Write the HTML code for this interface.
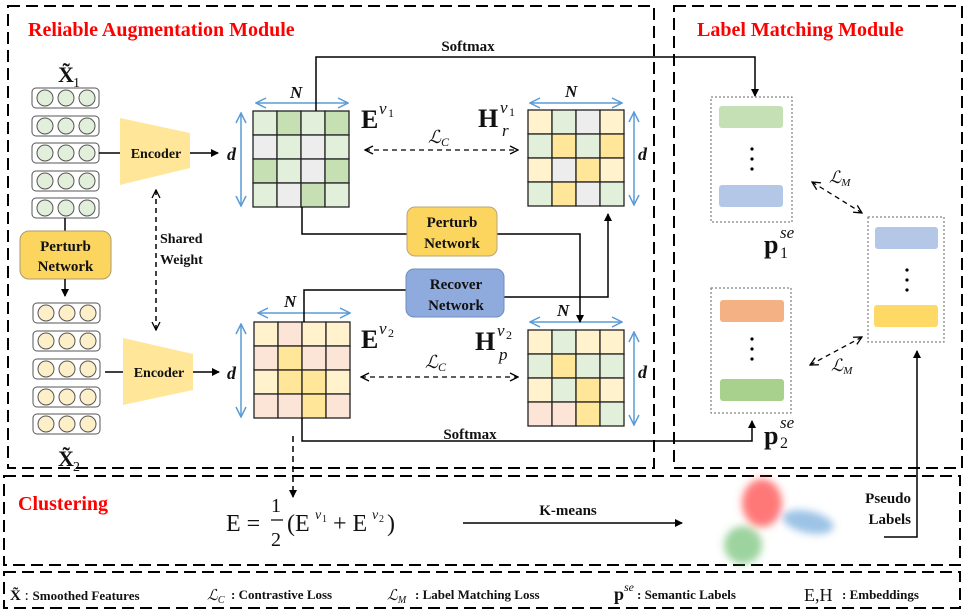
<!DOCTYPE html>
<html><head><meta charset="utf-8"><style>
html,body{margin:0;padding:0;background:#fff}
svg{display:block}
text{font-family:"Liberation Serif",serif;font-weight:bold;fill:#111}
.it{font-style:italic}
.nb{font-weight:normal}
</style></head><body>
<svg width="964" height="614" viewBox="0 0 964 614" xmlns="http://www.w3.org/2000/svg">
<defs>
<marker id="ah" markerWidth="8" markerHeight="8" refX="7" refY="4" orient="auto" markerUnits="userSpaceOnUse"><path d="M0,0 L8,4 L0,8 Z" fill="#000"/></marker>
<marker id="oh" markerWidth="10" markerHeight="10" refX="9" refY="5" orient="auto-start-reverse" markerUnits="userSpaceOnUse"><path d="M1,1 L9,5 L1,9" fill="none" stroke="#000" stroke-width="1.3"/></marker>
<marker id="bh" markerWidth="12" markerHeight="12" refX="11" refY="6" orient="auto-start-reverse" markerUnits="userSpaceOnUse"><path d="M1,1 L11,6 L1,11" fill="none" stroke="#5b9bd5" stroke-width="1.5"/></marker>
<filter id="bl" x="-30%" y="-30%" width="160%" height="160%"><feGaussianBlur stdDeviation="4"/></filter>
</defs>
<g fill="none" stroke="#000" stroke-width="2" stroke-dasharray="12,6">
<rect x="8" y="6" width="646" height="462"/>
<rect x="674" y="6" width="288" height="462"/>
<rect x="4" y="476" width="956" height="89"/>
<rect x="4" y="572" width="956" height="36"/>
</g>
<text x="28" y="36" font-size="20" style="fill:#ff0000">Reliable Augmentation Module</text>
<text x="697" y="36" font-size="20" style="fill:#ff0000">Label Matching Module</text>

<!-- feature rows -->
<text x="58" y="82" font-size="22">X̃</text><text x="73" y="87" font-size="14" class="nb">1</text>
<g stroke="#555" stroke-width="1">
<g fill="#fff"><rect x="32" y="88" width="67" height="20" rx="4"/><rect x="32" y="116" width="67" height="20" rx="4"/><rect x="32" y="143" width="67" height="20" rx="4"/><rect x="32" y="171" width="67" height="20" rx="4"/><rect x="32" y="198" width="67" height="20" rx="4"/>
<rect x="33" y="303" width="67" height="20" rx="4"/><rect x="33" y="331" width="67" height="20" rx="4"/><rect x="33" y="359" width="67" height="20" rx="4"/><rect x="33" y="387" width="67" height="20" rx="4"/><rect x="33" y="414" width="67" height="20" rx="4"/></g>
<g fill="#e2efda">
<circle cx="45" cy="98" r="8"/><circle cx="66" cy="98" r="8"/><circle cx="87" cy="98" r="8"/>
<circle cx="45" cy="126" r="8"/><circle cx="66" cy="126" r="8"/><circle cx="87" cy="126" r="8"/>
<circle cx="45" cy="153" r="8"/><circle cx="66" cy="153" r="8"/><circle cx="87" cy="153" r="8"/>
<circle cx="45" cy="181" r="8"/><circle cx="66" cy="181" r="8"/><circle cx="87" cy="181" r="8"/>
<circle cx="45" cy="208" r="8"/><circle cx="66" cy="208" r="8"/><circle cx="87" cy="208" r="8"/></g>
<g fill="#fdefc8">
<circle cx="46" cy="313" r="8"/><circle cx="67" cy="313" r="8"/><circle cx="88" cy="313" r="8"/>
<circle cx="46" cy="341" r="8"/><circle cx="67" cy="341" r="8"/><circle cx="88" cy="341" r="8"/>
<circle cx="46" cy="369" r="8"/><circle cx="67" cy="369" r="8"/><circle cx="88" cy="369" r="8"/>
<circle cx="46" cy="397" r="8"/><circle cx="67" cy="397" r="8"/><circle cx="88" cy="397" r="8"/>
<circle cx="46" cy="424" r="8"/><circle cx="67" cy="424" r="8"/><circle cx="88" cy="424" r="8"/></g>
</g>
<text x="58" y="466" font-size="22">X̃</text><text x="73" y="471" font-size="14" class="nb">2</text>
<line x1="65" y1="218" x2="65" y2="231" stroke="#000" stroke-width="1.5"/>
<rect x="20" y="231" width="91" height="48" rx="9" fill="#fcd55f" stroke="#a89a70"/>
<text x="65.5" y="251" font-size="15" text-anchor="middle">Perturb</text>
<text x="65.5" y="271" font-size="15" text-anchor="middle">Network</text>
<line x1="65" y1="279" x2="65" y2="296" stroke="#000" stroke-width="1.5" marker-end="url(#ah)"/>

<!-- encoders -->
<polygon points="120,118 190,133 190,168 120,185" fill="#ffe699"/>
<text x="156" y="158" font-size="14" text-anchor="middle">Encoder</text>
<line x1="99" y1="153" x2="120" y2="153" stroke="#000" stroke-width="1.5"/>
<line x1="190" y1="153" x2="218" y2="153" stroke="#000" stroke-width="1.5" marker-end="url(#ah)"/>
<polygon points="123,338 193,354 193,390 123,405" fill="#ffe699"/>
<text x="159" y="377" font-size="14" text-anchor="middle">Encoder</text>
<line x1="105" y1="372" x2="123" y2="372" stroke="#000" stroke-width="1.5"/>
<line x1="193" y1="372" x2="219" y2="372" stroke="#000" stroke-width="1.5" marker-end="url(#ah)"/>
<line x1="156" y1="190" x2="156" y2="330" stroke="#000" stroke-width="1.5" stroke-dasharray="5,4" marker-start="url(#oh)" marker-end="url(#oh)"/>
<text x="160" y="243" font-size="14">Shared</text>
<text x="160" y="264" font-size="14">Weight</text>
<text x="227" y="160" font-size="18" class="it">d</text>
<text x="227" y="379" font-size="18" class="it">d</text>

<!-- matrices -->
<g stroke="#222" stroke-width="1.3">
<g transform="translate(253,111)">
<rect x="0" y="0" width="24" height="24" fill="#e2efda"/><rect x="24" y="0" width="24" height="24" fill="#c6e0b4"/><rect x="48" y="0" width="24" height="24" fill="#e2efda"/><rect x="72" y="0" width="24" height="24" fill="#c6e0b4"/>
<rect x="0" y="24" width="24" height="24" fill="#ededed"/><rect x="24" y="24" width="24" height="24" fill="#e2efda"/><rect x="48" y="24" width="24" height="24" fill="#ededed"/><rect x="72" y="24" width="24" height="24" fill="#e2efda"/>
<rect x="0" y="48" width="24" height="24" fill="#c6e0b4"/><rect x="24" y="48" width="24" height="24" fill="#e2efda"/><rect x="48" y="48" width="24" height="24" fill="#ededed"/><rect x="72" y="48" width="24" height="24" fill="#c6e0b4"/>
<rect x="0" y="72" width="24" height="24" fill="#e2efda"/><rect x="24" y="72" width="24" height="24" fill="#ededed"/><rect x="48" y="72" width="24" height="24" fill="#c6e0b4"/><rect x="72" y="72" width="24" height="24" fill="#e2efda"/>
</g>
<g transform="translate(528,110)">
<rect x="0" y="0" width="24" height="24" fill="#fff2cc"/><rect x="24" y="0" width="24" height="24" fill="#e2efda"/><rect x="48" y="0" width="24" height="24" fill="#ededed"/><rect x="72" y="0" width="24" height="24" fill="#fff2cc"/>
<rect x="0" y="24" width="24" height="24" fill="#e2efda"/><rect x="24" y="24" width="24" height="24" fill="#ffe699"/><rect x="48" y="24" width="24" height="24" fill="#e2efda"/><rect x="72" y="24" width="24" height="24" fill="#ffe699"/>
<rect x="0" y="48" width="24" height="24" fill="#fff2cc"/><rect x="24" y="48" width="24" height="24" fill="#ededed"/><rect x="48" y="48" width="24" height="24" fill="#ffe699"/><rect x="72" y="48" width="24" height="24" fill="#fff2cc"/>
<rect x="0" y="72" width="24" height="24" fill="#e2efda"/><rect x="24" y="72" width="24" height="24" fill="#ffe699"/><rect x="48" y="72" width="24" height="24" fill="#ededed"/><rect x="72" y="72" width="24" height="24" fill="#e2efda"/>
</g>
<g transform="translate(254,322)">
<rect x="0" y="0" width="24" height="24" fill="#fff2cc"/><rect x="24" y="0" width="24" height="24" fill="#fce4d6"/><rect x="48" y="0" width="24" height="24" fill="#fff2cc"/><rect x="72" y="0" width="24" height="24" fill="#fff2cc"/>
<rect x="0" y="24" width="24" height="24" fill="#fce4d6"/><rect x="24" y="24" width="24" height="24" fill="#ffe699"/><rect x="48" y="24" width="24" height="24" fill="#fce4d6"/><rect x="72" y="24" width="24" height="24" fill="#fce4d6"/>
<rect x="0" y="48" width="24" height="24" fill="#fff2cc"/><rect x="24" y="48" width="24" height="24" fill="#ffe699"/><rect x="48" y="48" width="24" height="24" fill="#ffe699"/><rect x="72" y="48" width="24" height="24" fill="#fff2cc"/>
<rect x="0" y="72" width="24" height="24" fill="#fce4d6"/><rect x="24" y="72" width="24" height="24" fill="#fce4d6"/><rect x="48" y="72" width="24" height="24" fill="#ffe699"/><rect x="72" y="72" width="24" height="24" fill="#fce4d6"/>
</g>
<g transform="translate(528,330)">
<rect x="0" y="0" width="24" height="24" fill="#fff2cc"/><rect x="24" y="0" width="24" height="24" fill="#e2efda"/><rect x="48" y="0" width="24" height="24" fill="#fff2cc"/><rect x="72" y="0" width="24" height="24" fill="#fff2cc"/>
<rect x="0" y="24" width="24" height="24" fill="#e2efda"/><rect x="24" y="24" width="24" height="24" fill="#ffe699"/><rect x="48" y="24" width="24" height="24" fill="#e2efda"/><rect x="72" y="24" width="24" height="24" fill="#e2efda"/>
<rect x="0" y="48" width="24" height="24" fill="#fff2cc"/><rect x="24" y="48" width="24" height="24" fill="#e2efda"/><rect x="48" y="48" width="24" height="24" fill="#ffe699"/><rect x="72" y="48" width="24" height="24" fill="#fff2cc"/>
<rect x="0" y="72" width="24" height="24" fill="#fce4d6"/><rect x="24" y="72" width="24" height="24" fill="#fce4d6"/><rect x="48" y="72" width="24" height="24" fill="#ffe699"/><rect x="72" y="72" width="24" height="24" fill="#e2efda"/>
</g>
</g>

<g stroke="#5b9bd5" stroke-width="1.5">
<line x1="256" y1="103" x2="348" y2="103" marker-start="url(#bh)" marker-end="url(#bh)"/>
<line x1="241" y1="113" x2="241" y2="206" marker-start="url(#bh)" marker-end="url(#bh)"/>
<line x1="530" y1="103" x2="622" y2="103" marker-start="url(#bh)" marker-end="url(#bh)"/>
<line x1="634" y1="112" x2="634" y2="205" marker-start="url(#bh)" marker-end="url(#bh)"/>
<line x1="258" y1="313" x2="350" y2="313" marker-start="url(#bh)" marker-end="url(#bh)"/>
<line x1="241" y1="324" x2="241" y2="417" marker-start="url(#bh)" marker-end="url(#bh)"/>
<line x1="530" y1="322" x2="622" y2="322" marker-start="url(#bh)" marker-end="url(#bh)"/>
<line x1="634" y1="332" x2="634" y2="425" marker-start="url(#bh)" marker-end="url(#bh)"/>
</g>
<text x="290" y="98" font-size="17" class="it">N</text>
<text x="565" y="97" font-size="17" class="it">N</text>
<text x="284" y="307" font-size="17" class="it">N</text>
<text x="557" y="316" font-size="17" class="it">N</text>
<text x="638" y="160" font-size="18" class="it">d</text>
<text x="638" y="378" font-size="18" class="it">d</text>

<!-- matrix labels -->
<text x="361" y="128" font-size="26">E</text><text x="379" y="114" font-size="17" class="it nb">v</text><text x="388" y="117" font-size="12" class="nb">1</text>
<text x="478" y="127" font-size="26">H</text><text x="500" y="113" font-size="17" class="it nb">v</text><text x="509" y="116" font-size="12" class="nb">1</text><text x="502" y="136" font-size="17" class="it nb">r</text>
<text x="361" y="348" font-size="26">E</text><text x="379" y="334" font-size="17" class="it nb">v</text><text x="388" y="337" font-size="12" class="nb">2</text>
<text x="475" y="350" font-size="26">H</text><text x="497" y="336" font-size="17" class="it nb">v</text><text x="506" y="339" font-size="12" class="nb">2</text><text x="499" y="360" font-size="17" class="it nb">p</text>

<line x1="365" y1="150" x2="518" y2="150" stroke="#000" stroke-width="1.3" stroke-dasharray="5,4" marker-start="url(#oh)" marker-end="url(#oh)"/>
<text x="428" y="143" font-size="18" class="it nb">ℒ<tspan font-size="12" dy="3">C</tspan></text>
<line x1="361" y1="377" x2="518" y2="377" stroke="#000" stroke-width="1.3" stroke-dasharray="5,4" marker-start="url(#oh)" marker-end="url(#oh)"/>
<text x="425" y="368" font-size="18" class="it nb">ℒ<tspan font-size="12" dy="3">C</tspan></text>

<g fill="none" stroke="#000" stroke-width="1.5">
<polyline points="302,207 302,234 407,234"/>
<polyline points="497,234 580,234 580,322" marker-end="url(#ah)"/>
<polyline points="304,322 304,290 406,290"/>
<polyline points="504,297 608,297 608,214" marker-end="url(#ah)"/>
<polyline points="316,111 316,57 755,57 755,96" marker-end="url(#ah)"/>
<polyline points="302,418 302,441 752,441 752,421" marker-end="url(#ah)"/>
</g>
<rect x="407" y="207" width="90" height="49" rx="8" fill="#fcd55f" stroke="#b8a478"/>
<text x="452" y="227" font-size="15" text-anchor="middle">Perturb</text>
<text x="452" y="248" font-size="15" text-anchor="middle">Network</text>
<rect x="406" y="269" width="98" height="48" rx="8" fill="#8faadc" stroke="#6c8ebf"/>
<text x="456" y="289" font-size="15" text-anchor="middle">Recover</text>
<text x="456" y="310" font-size="15" text-anchor="middle">Network</text>
<text x="468" y="51" font-size="15" text-anchor="middle">Softmax</text>
<text x="470" y="439" font-size="15" text-anchor="middle">Softmax</text>

<!-- label matching -->
<g fill="none" stroke="#666" stroke-width="1" stroke-dasharray="2,2">
<rect x="711" y="97" width="81" height="125"/>
<rect x="711" y="288" width="80" height="125"/>
<rect x="868" y="217" width="76" height="125"/>
</g>
<rect x="719" y="106" width="64" height="22" rx="3" fill="#c5e0b4"/>
<rect x="719" y="185" width="64" height="22" rx="3" fill="#b4c7e7"/>
<rect x="720" y="300" width="64" height="22" rx="3" fill="#f4b183"/>
<rect x="720" y="379" width="64" height="22" rx="3" fill="#a9d18e"/>
<rect x="875" y="227" width="63" height="22" rx="3" fill="#b4c7e7"/>
<rect x="874" y="305" width="64" height="22" rx="3" fill="#ffd966"/>
<g fill="#000">
<circle cx="752" cy="149" r="1.6"/><circle cx="752" cy="159" r="1.6"/><circle cx="752" cy="169" r="1.6"/>
<circle cx="752" cy="339" r="1.6"/><circle cx="752" cy="349" r="1.6"/><circle cx="752" cy="359" r="1.6"/>
<circle cx="907" cy="270" r="1.6"/><circle cx="907" cy="280" r="1.6"/><circle cx="907" cy="290" r="1.6"/>
</g>
<text x="764" y="253" font-size="26">p</text><text x="780" y="238" font-size="17" class="it nb">se</text><text x="780" y="258" font-size="16" class="nb">1</text>
<text x="764" y="444" font-size="26">p</text><text x="780" y="428" font-size="17" class="it nb">se</text><text x="780" y="448" font-size="16" class="nb">2</text>
<line x1="812" y1="182" x2="862" y2="213" stroke="#000" stroke-width="1.3" stroke-dasharray="5,4" marker-start="url(#oh)" marker-end="url(#oh)"/>
<text x="829" y="183" font-size="17" class="it nb">ℒ<tspan font-size="11" dy="3">M</tspan></text>
<line x1="810" y1="365" x2="862" y2="337" stroke="#000" stroke-width="1.3" stroke-dasharray="5,4" marker-start="url(#oh)" marker-end="url(#oh)"/>
<text x="831" y="371" font-size="17" class="it nb">ℒ<tspan font-size="11" dy="3">M</tspan></text>
<polyline points="884,537 917,537 917,351" fill="none" stroke="#000" stroke-width="1.5" marker-end="url(#ah)"/>
<text x="911" y="503" font-size="15" text-anchor="end">Pseudo</text>
<text x="911" y="524" font-size="15" text-anchor="end">Labels</text>

<!-- clustering -->
<line x1="293" y1="436" x2="293" y2="497" stroke="#000" stroke-width="1.5" stroke-dasharray="6,4" marker-end="url(#ah)"/>
<text x="18" y="510" font-size="20" style="fill:#ff0000">Clustering</text>
<text x="226" y="531" font-size="24" class="nb">E =</text>
<text x="271" y="512" font-size="20" class="nb">1</text>
<line x1="271" y1="520" x2="283" y2="520" stroke="#000" stroke-width="1.2"/>
<text x="271" y="546" font-size="20" class="nb">2</text>
<text x="287" y="531" font-size="24" class="nb">(E</text><text x="315" y="519" font-size="14" class="it nb">v</text><text x="322" y="522" font-size="10" class="nb">1</text>
<text x="333" y="531" font-size="24" class="nb">+ E</text><text x="372" y="519" font-size="14" class="it nb">v</text><text x="379" y="522" font-size="10" class="nb">2</text>
<text x="387" y="531" font-size="24" class="nb">)</text>
<line x1="463" y1="523" x2="682" y2="523" stroke="#000" stroke-width="1.5" marker-end="url(#ah)"/>
<text x="568" y="515" font-size="15" text-anchor="middle">K-means</text>
<g filter="url(#bl)">
<ellipse cx="762" cy="503" rx="20" ry="24" fill="#ff4040" opacity="0.7"/>
<ellipse cx="808" cy="522" rx="26" ry="11" fill="#5b9bd5" opacity="0.6" transform="rotate(12 808 522)"/>
<ellipse cx="743" cy="545" rx="19" ry="19" fill="#4caf50" opacity="0.55"/>
</g>

<!-- legend -->
<text x="10" y="600" font-size="15">X̃ <tspan class="nb">:</tspan> <tspan font-size="13">Smoothed Features</tspan></text>
<text x="207" y="600" font-size="15" class="it nb">ℒ<tspan font-size="10" dy="3">C</tspan></text>
<text x="231" y="599" font-size="13">: Contrastive Loss</text>
<text x="387" y="600" font-size="15" class="it nb">ℒ<tspan font-size="10" dy="3">M</tspan></text>
<text x="415" y="599" font-size="13">: Label Matching Loss</text>
<text x="614" y="600" font-size="18">p</text><text x="624" y="591" font-size="12" class="it nb">se</text>
<text x="637" y="599" font-size="13">: Semantic Labels</text>
<text x="804" y="601" font-size="18" class="nb">E,H</text>
<text x="842" y="599" font-size="13">: Embeddings</text>
</svg>
</body></html>
